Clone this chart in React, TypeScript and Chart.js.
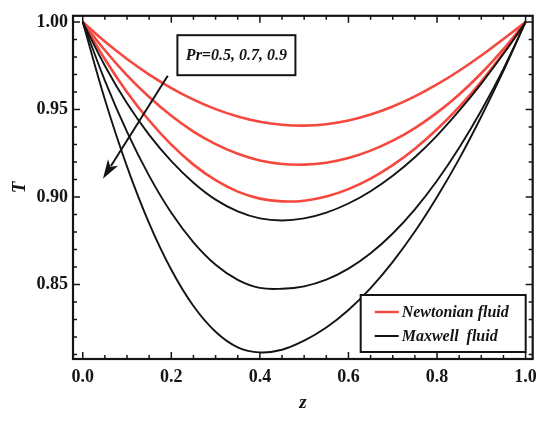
import React, { useEffect, useRef } from 'react';
import { Chart, registerables } from 'chart.js';

Chart.register(...registerables);

// ---- data ----
const zValues = [0, 0.05, 0.1, 0.15, 0.2, 0.25, 0.3, 0.35, 0.4, 0.45, 0.5, 0.55, 0.6, 0.65, 0.7, 0.75, 0.8, 0.85, 0.9, 0.95, 1.0];

const newtonianPr05 = [1.0, 0.9888, 0.9788, 0.9699, 0.9622, 0.9556, 0.9502, 0.946, 0.943, 0.9413, 0.9408, 0.9416, 0.9437, 0.9471, 0.9517, 0.9575, 0.9643, 0.9721, 0.9808, 0.9903, 1.0];
const newtonianPr07 = [1.0, 0.9838, 0.9695, 0.9571, 0.9464, 0.9374, 0.9302, 0.9247, 0.9209, 0.9189, 0.9185, 0.9196, 0.9223, 0.9265, 0.9322, 0.9394, 0.9482, 0.9586, 0.9707, 0.9845, 1.0];
const newtonianPr09 = [1.0, 0.9787, 0.9599, 0.9437, 0.9299, 0.9185, 0.9096, 0.9031, 0.8991, 0.8975, 0.8979, 0.9003, 0.9045, 0.9105, 0.9182, 0.9276, 0.9387, 0.9515, 0.966, 0.9822, 1.0];

const maxwellPr05 = [1.0, 0.975, 0.9535, 0.9355, 0.9205, 0.9082, 0.8985, 0.8918, 0.8878, 0.8866, 0.8878, 0.8911, 0.8963, 0.9033, 0.9121, 0.9227, 0.9351, 0.9493, 0.9648, 0.9818, 1.0];
const maxwellPr07 = [1.0, 0.9665, 0.9372, 0.9121, 0.891, 0.8741, 0.8613, 0.8527, 0.8481, 0.8476, 0.849, 0.8528, 0.8591, 0.8679, 0.8792, 0.893, 0.9093, 0.9281, 0.9494, 0.9732, 1.0];
const maxwellPr09 = [1.0, 0.9557, 0.9174, 0.885, 0.8585, 0.8378, 0.8231, 0.8142, 0.8113, 0.8128, 0.818, 0.8255, 0.8355, 0.848, 0.863, 0.8803, 0.9, 0.9218, 0.946, 0.972, 1.0];

const xTickValues = [0, 0.2, 0.4, 0.6, 0.8, 1.0];
const yTickValues = [0.85, 0.9, 0.95, 1.0];

const legendLabels = ['Newtonian fluid', 'Maxwell  fluid'];
const annotationText = 'Pr=0.5, 0.7, 0.9';
const xTitle = 'z';
const yTitle = 'T';

// ---- styles ----
const RED = 'rgb(246,72,62)';
const BLACK = '#141414';
const FONT = "'Liberation Serif', 'DejaVu Serif', serif";

const toPoints = (ys: number[]) => ys.map((y, i) => ({ x: zValues[i], y }));

const decorPlugin = {
  id: 'decor',
  afterDraw(chart: any) {
    const { ctx, chartArea: a, scales } = chart;
    const x = scales.x;
    const y = scales.y;
    ctx.save();

    // inward ticks on all four sides
    ctx.strokeStyle = BLACK;
    ctx.lineWidth = 1.5;
    ctx.beginPath();
    for (let i = 0; i <= 20; i++) {
      const px = x.getPixelForValue(i * 0.05);
      const len = i % 4 === 0 ? 7 : 4;
      ctx.moveTo(px, a.bottom);
      ctx.lineTo(px, a.bottom - len);
      ctx.moveTo(px, a.top);
      ctx.lineTo(px, a.top + len);
    }
    for (let i = 81; i <= 100; i++) {
      const py = y.getPixelForValue(i / 100);
      const len = i % 5 === 0 ? 7 : 4;
      ctx.moveTo(a.left, py);
      ctx.lineTo(a.left + len, py);
      ctx.moveTo(a.right, py);
      ctx.lineTo(a.right - len, py);
    }
    ctx.stroke();

    // frame
    ctx.lineWidth = 2.2;
    ctx.strokeRect(a.left, a.top, a.right - a.left, a.bottom - a.top);

    // arrow (Pr increasing)
    const sx = x.getPixelForValue(0.192);
    const sy = y.getPixelForValue(0.9693);
    const ex = x.getPixelForValue(0.0456);
    const ey = y.getPixelForValue(0.9105);
    const ang = Math.atan2(ey - sy, ex - sx);
    const headLen = 19;
    const headHalf = 6;
    const bx = ex - headLen * Math.cos(ang);
    const by = ey - headLen * Math.sin(ang);
    ctx.lineWidth = 2;
    ctx.beginPath();
    ctx.moveTo(sx, sy);
    ctx.lineTo(bx + 4 * Math.cos(ang), by + 4 * Math.sin(ang));
    ctx.stroke();
    ctx.fillStyle = BLACK;
    ctx.beginPath();
    ctx.moveTo(ex, ey);
    ctx.lineTo(bx + headHalf * Math.sin(ang), by - headHalf * Math.cos(ang));
    ctx.lineTo(bx + 5 * Math.cos(ang), by + 5 * Math.sin(ang));
    ctx.lineTo(bx - headHalf * Math.sin(ang), by + headHalf * Math.cos(ang));
    ctx.closePath();
    ctx.fill();

    // Pr annotation box
    const cx = x.getPixelForValue(0.347);
    const cy = y.getPixelForValue(0.981);
    const bw = 118;
    const bh = 40;
    ctx.fillStyle = '#fff';
    ctx.fillRect(cx - bw / 2, cy - bh / 2, bw, bh);
    ctx.lineWidth = 2;
    ctx.strokeRect(cx - bw / 2, cy - bh / 2, bw, bh);
    ctx.fillStyle = BLACK;
    ctx.font = `italic bold 16px ${FONT}`;
    ctx.textAlign = 'center';
    ctx.textBaseline = 'middle';
    ctx.fillText(annotationText, cx, cy + 1);

    // legend box
    const lw = 165;
    const lh = 57;
    const lx = a.right - 7 - lw;
    const ly = a.bottom - 7 - lh;
    ctx.fillStyle = '#fff';
    ctx.fillRect(lx, ly, lw, lh);
    ctx.lineWidth = 2;
    ctx.strokeStyle = BLACK;
    ctx.strokeRect(lx, ly, lw, lh);
    const colors = [RED, BLACK];
    ctx.textAlign = 'left';
    ctx.font = `italic bold 16px ${FONT}`;
    legendLabels.forEach((label, i) => {
      const rowY = ly + 17 + i * 24;
      ctx.strokeStyle = colors[i];
      ctx.lineWidth = i === 0 ? 2.5 : 2;
      ctx.beginPath();
      ctx.moveTo(lx + 14, rowY);
      ctx.lineTo(lx + 38, rowY);
      ctx.stroke();
      ctx.fillStyle = BLACK;
      ctx.fillText(label, lx + 41, rowY + 1);
    });

    ctx.restore();
  },
};

export default function App() {
  const canvasRef = useRef<HTMLCanvasElement | null>(null);

  useEffect(() => {
    const canvas = canvasRef.current;
    if (!canvas) return;

    const maxwellSeries = [maxwellPr05, maxwellPr07, maxwellPr09];
    const newtonianSeries = [newtonianPr05, newtonianPr07, newtonianPr09];
    const prLabels = ['Pr=0.5', 'Pr=0.7', 'Pr=0.9'];

    const datasets: any[] = [
      ...maxwellSeries.map((s, i) => ({
        label: `Maxwell fluid, ${prLabels[i]}`,
        data: toPoints(s),
        borderColor: BLACK,
        borderWidth: 1.9,
        pointRadius: 0,
        fill: false,
        tension: 0.4,
      })),
      ...newtonianSeries.map((s, i) => ({
        label: `Newtonian fluid, ${prLabels[i]}`,
        data: toPoints(s),
        borderColor: RED,
        borderWidth: 2.6,
        pointRadius: 0,
        fill: false,
        tension: 0.4,
      })),
    ];

    const tickFont = { family: FONT, size: 18, weight: 'bold', lineHeight: 1.2 };

    const chart = new Chart(canvas, {
      type: 'line',
      data: { datasets },
      plugins: [decorPlugin],
      options: {
        animation: false,
        responsive: false,
        maintainAspectRatio: false,
        layout: { padding: { top: 9, right: 10, left: 0, bottom: 0 } },
        plugins: {
          legend: { display: false },
          tooltip: { enabled: false },
        },
        scales: {
          x: {
            type: 'linear',
            min: -0.022,
            max: 1.016,
            afterBuildTicks: (scale: any) => {
              scale.ticks = xTickValues.map((v) => ({ value: v }));
            },
            afterFit: (scale: any) => {
              scale.height = 64;
            },
            ticks: {
              callback: (v: any) => Number(v).toFixed(1),
              font: tickFont as any,
              color: BLACK,
              padding: 8,
              maxRotation: 0,
              autoSkip: false,
            },
            grid: { display: false, drawTicks: false },
            border: { display: false },
            title: {
              display: true,
              text: xTitle,
              color: BLACK,
              font: { family: FONT, size: 19, style: 'italic', weight: 'bold', lineHeight: 1.2 } as any,
              padding: { top: 0, bottom: 9 },
            },
          },
          y: {
            type: 'linear',
            min: 0.8075,
            max: 1.0035,
            afterBuildTicks: (scale: any) => {
              scale.ticks = yTickValues.map((v) => ({ value: v }));
            },
            afterFit: (scale: any) => {
              scale.width = 73;
            },
            ticks: {
              callback: (v: any) => Number(v).toFixed(2),
              font: tickFont as any,
              color: BLACK,
              padding: 5,
              autoSkip: false,
            },
            grid: { display: false, drawTicks: false },
            border: { display: false },
            title: {
              display: true,
              text: yTitle,
              color: BLACK,
              font: { family: FONT, size: 19, style: 'italic', weight: 'bold', lineHeight: 1.2 } as any,
              padding: { top: 9, bottom: 0 },
            },
          },
        },
      } as any,
    });

    return () => {
      chart.destroy();
    };
  }, []);

  return (
    <div style={{ position: 'fixed', left: 0, top: 0, width: 545, height: 423, background: '#fff' }}>
      <canvas ref={canvasRef} width={545} height={423} style={{ display: 'block' }} />
    </div>
  );
}
